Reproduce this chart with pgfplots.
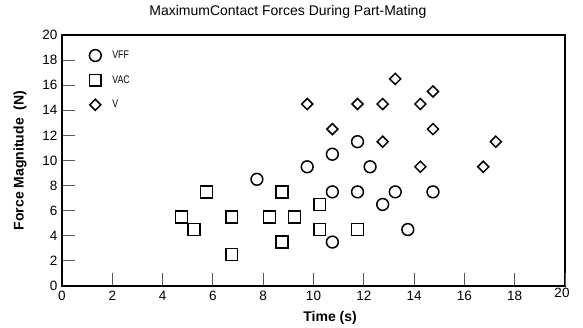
\documentclass[border=0pt]{standalone}
\usepackage{fontspec}
\setmainfont{Liberation Sans}
\usepackage{graphicx}
\usepackage{pgfplots}
\pgfplotsset{compat=1.18}
\pgfplotsset{myleg/.style={legend image code/.code={\path[draw=none,fill=none] (0pt,-1pt) rectangle (29pt,1pt); \draw[##1] plot coordinates {(14pt,0pt)};}}}
\begin{document}
\begin{tikzpicture}
\useasboundingbox (-62pt,-41pt) rectangle (521pt,286pt);
\begin{axis}[
  at={(0pt,0pt)}, anchor=south west,
  scale only axis, width=503pt, height=251pt,
  xmin=0, xmax=20, ymin=0, ymax=20,
  xtick={0,2,...,18}, ytick={0,2,...,20},
  extra x ticks={20},
  extra x tick style={xticklabel style={yshift=3pt, xshift=-3pt}},
  tick align=inside, tick pos=left,
  major tick length=13pt,
  every tick/.style={gray!70!black, line width=0.9pt},
  axis line style={line width=1.1pt},
  /pgf/number format/assume math mode=true,
  tick label style={font=\fontsize{13.5}{16}\selectfont},
  xticklabel style={yshift=-2pt},
  yticklabel style={xshift=-1pt},
  title={MaximumContact Forces During Part-Mating},
  title style={at={(axis description cs:0.449,1)}, anchor=base, yshift=14pt, font=\fontsize{14}{16}\selectfont},
  xlabel={Time (s)},
  xlabel style={at={(axis description cs:0.533,0)}, anchor=base, yshift=-35.5pt, font=\fontsize{14}{16}\selectfont\bfseries},
  ylabel={Force Magnitude\ \ (N)},
  ylabel style={at={(axis description cs:-0.0835,0.5)}, anchor=center, font=\fontsize{14}{16}\selectfont\bfseries},
  legend style={draw=none, fill=none, at={(axis description cs:0.038,0.945)}, anchor=north west,
     font=\fontsize{11}{13}\selectfont, row sep=11.5pt, inner sep=0pt},
  legend cell align=left,
]
\addplot[only marks, myleg, mark=o, mark size=5.9pt, mark options={line width=1.5pt, black}] coordinates {
(7.75,8.5) (9.75,9.5) (10.75,10.5) (11.75,11.5) (12.25,9.5) (10.75,7.5) (11.75,7.5)
(12.75,6.5) (13.25,7.5) (14.75,7.5) (13.75,4.5) (10.75,3.5)
};
\addlegendentry{\scalebox{0.8}[1]{VFF}}
\addplot[only marks, myleg, mark=square, mark size=5.9pt, mark options={line width=1.5pt, black}] coordinates {
(4.75,5.5) (5.25,4.5) (5.75,7.5) (6.75,5.5) (6.75,2.5) (8.25,5.5) (8.75,7.5) (8.75,3.5)
(9.25,5.5) (10.25,6.5) (10.25,4.5) (11.75,4.5)
};
\addlegendentry{\scalebox{0.8}[1]{VAC}}
\addplot[only marks, myleg, mark=square, mark size=3.9pt, mark options={line width=1.5pt, black, rotate=45}] coordinates {
(9.75,14.5) (10.75,12.5) (11.75,14.5) (12.75,14.5) (13.25,16.5) (14.25,14.5) (14.75,15.5)
(14.75,12.5) (12.75,11.5) (14.25,9.5) (16.75,9.5) (17.25,11.5)
};
\addlegendentry{\scalebox{0.8}[1]{V}}
\end{axis}
\end{tikzpicture}
\end{document}
